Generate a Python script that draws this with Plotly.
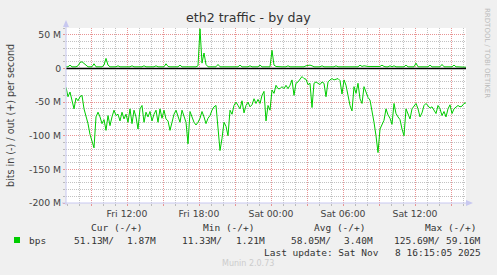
import pandas as pd
import plotly.graph_objects as go

# ---- data (Mbit/s), 10-minute samples from Fri 2025-11-07 06:55 to Sat 16:15 ----
start_time = "2025-11-07 06:55"
in_vals = [
    -28, -42, -35, -50, -60, -44, -48, -42, -40, -60,
    -70, -82, -98, -110, -118, -72, -65, -72, -82, -76,
    -92, -70, -85, -72, -62, -70, -68, -78, -65, -75,
    -68, -80, -60, -82, -62, -72, -90, -60, -55, -80,
    -65, -72, -64, -78, -68, -62, -80, -60, -74, -62,
    -75, -78, -92, -80, -68, -62, -72, -80, -62, -72,
    -80, -112, -64, -72, -80, -84, -80, -74, -64, -72,
    -82, -74, -70, -62, -57, -55, -85, -122, -104, -80,
    -86, -100, -62, -68, -55, -50, -55, -60, -48, -66,
    -55, -50, -57, -54, -45, -52, -46, -52, -40, -34,
    -78, -55, -62, -32, -37, -25, -30, -30, -27, -30,
    -25, -30, -25, -17, -40, -22, -20, -15, -12, -15,
    -16, -24, -22, -58, -22, -20, -22, -24, -20, -22,
    -42, -20, -17, -15, -17, -16, -15, -18, -38, -17,
    -25, -40, -55, -63, -27, -37, -22, -45, -52, -27,
    -35, -43, -47, -62, -80, -100, -125, -90, -84, -77,
    -60, -69, -74, -83, -52, -67, -72, -76, -90, -100,
    -60, -67, -75, -60, -55, -52, -60, -72, -66, -55,
    -52, -55, -59, -57, -62, -67, -55, -60, -70, -64,
    -72, -60, -54, -67, -60, -57, -55, -57, -56, -52,
    -51,
]
out_vals = [
    2.5, 2.5, 5, 2.5, 2.5, 2.5, 4, 9, 10, 7,
    4, 2.5, 2.5, 2.5, 7, 2.5, 2.5, 2.5, 2.5, 5,
    15, 5, 2.5, 2.5, 2.5, 2.5, 4, 2.5, 2.5, 2.5,
    2.5, 2.5, 2.5, 4, 2.5, 2.5, 2.5, 2.5, 2.5, 4,
    2.5, 2.5, 2.5, 2.5, 2.5, 4, 2.5, 2.5, 2.5, 2.5,
    7, 3, 2.5, 2.5, 2.5, 2.5, 2.5, 5, 2.5, 2.5,
    3, 2.5, 2.5, 2.5, 2.5, 2.5, 4, 59, 8, 23,
    6, 2.5, 2.5, 2.5, 2.5, 2.5, 6, 2.5, 2.5, 2.5,
    2.5, 3, 2.5, 2.5, 2.5, 2.5, 2.5, 5, 2.5, 2.5,
    2.5, 2.5, 4, 2.5, 2.5, 2.5, 2.5, 5, 2.5, 2.5,
    2.5, 2.5, 2.5, 27, 5, 3, 2.5, 2.5, 2.5, 2.5,
    2.5, 4, 2.5, 2.5, 2.5, 2.5, 2.5, 2.5, 2.5, 2.5,
    4, 5, 5, 4, 2.5, 2.5, 2.5, 2.5, 4, 2.5,
    2.5, 2.5, 2.5, 2.5, 2.5, 4, 2.5, 2.5, 2.5, 2.5,
    2.5, 2.5, 2.5, 2.5, 2.5, 2.5, 2.5, 5, 3, 4,
    3, 3, 3, 3, 3, 3, 3, 3, 5, 3,
    2.5, 2.5, 4, 2.5, 4, 2.5, 2.5, 2.5, 2.5, 2.5,
    5, 2.5, 2.5, 2.5, 2.5, 8, 2.5, 2.5, 2.5, 2.5,
    2.5, 2.5, 5, 2.5, 2.5, 2.5, 2.5, 2.5, 6, 2.5,
    2.5, 2.5, 2.5, 2.5, 5, 2.5, 2.5, 2.5, 2.5, 2.5,
    1.87,
]
y_tick_vals = [-200, -150, -100, -50, 0, 50]
y_tick_text = ["-200 M", "-150 M", "-100 M", "-50 M", "0", "50 M"]
x_tick_vals = ["2025-11-07 09:00", "2025-11-07 12:00", "2025-11-07 15:00", "2025-11-07 18:00",
               "2025-11-07 21:00", "2025-11-08 00:00", "2025-11-08 03:00", "2025-11-08 06:00",
               "2025-11-08 09:00", "2025-11-08 12:00", "2025-11-08 15:00"]
x_tick_text = ["", "Fri 12:00", "", "Fri 18:00", "", "Sat 00:00", "", "Sat 06:00", "", "Sat 12:00", ""]
legend_headers = ["Cur (-/+)", "Min (-/+)", "Avg (-/+)", "Max (-/+)"]
legend_neg = ["51.13M/", "11.33M/", "58.05M/", "125.69M/"]
legend_pos = ["1.87M", "1.21M", "3.40M", "59.16M"]

times = pd.date_range(start_time, periods=len(in_vals), freq="10min")

W, H = 497, 275
L, R, T, B = 66, 466, 28, 203  # plot area in pixels


def px(x):
    return (x - L) / (R - L)


def py(y):
    return (B - y) / (B - T)


GREEN = "#00CC00"
MGRID = "#E89494"
GRID = "#C2C2C2"
AXIS = "#C8C8F0"
SANS = "DejaVu Sans"
MONO = "DejaVu Sans Mono"

fig = go.Figure()
fig.add_trace(go.Scatter(x=times, y=in_vals, mode="lines",
                         line=dict(color=GREEN, width=1), hoverinfo="skip"))
fig.add_trace(go.Scatter(x=times, y=out_vals, mode="lines",
                         line=dict(color=GREEN, width=1), hoverinfo="skip"))

fig.update_layout(
    width=W, height=H,
    margin=dict(l=L, r=W - R, t=T, b=H - B, pad=0),
    paper_bgcolor="#F0F0F0", plot_bgcolor="#FFFFFF",
    showlegend=False,
    font=dict(family=SANS, color="#555555", size=9),
)
fig.update_xaxes(
    range=[times[0], times[-1]], automargin=False,
    tickvals=x_tick_vals, ticktext=x_tick_text,
    showgrid=True, gridcolor=MGRID, griddash="1px,1px", gridwidth=1,
    ticks="outside", ticklen=2, tickcolor=MGRID,
    tickfont=dict(family=SANS, size=9.3, color="#444444"),
    minor=dict(dtick=3600000, tick0="2025-11-07 00:00", showgrid=True,
               gridcolor=GRID, griddash="1px,1px", gridwidth=1,
               ticks="outside", ticklen=2, tickcolor="#BBBBBB"),
    showline=False, zeroline=False,
)
fig.update_yaxes(
    range=[-200, 60.2], automargin=False,
    tickvals=y_tick_vals, ticktext=y_tick_text,
    showgrid=True, gridcolor=MGRID, griddash="1px,1px", gridwidth=1,
    ticks="outside", ticklen=2, tickcolor=MGRID,
    tickfont=dict(family=SANS, size=9.3, color="#444444"),
    minor=dict(dtick=10, showgrid=True, gridcolor=GRID, griddash="1px,1px",
               gridwidth=1, ticks="outside", ticklen=2, tickcolor="#BBBBBB"),
    showline=False, zeroline=False,
)

shapes = []
# zero rule
shapes.append(dict(type="line", xref="paper", yref="y", x0=0, x1=1, y0=0, y1=0,
                   line=dict(color="#000000", width=1.5), layer="above"))
# axes with arrows
shapes.append(dict(type="line", xref="paper", yref="paper", x0=px(66), x1=px(66),
                   y0=py(205), y1=py(24), line=dict(color=AXIS, width=1)))
shapes.append(dict(type="path", xref="paper", yref="paper",
                   path=f"M {px(63)} {py(27)} L {px(69)} {py(27)} L {px(66)} {py(20)} Z",
                   fillcolor=AXIS, line=dict(color=AXIS, width=0)))
shapes.append(dict(type="line", xref="paper", yref="paper", x0=px(62), x1=px(468),
                   y0=py(203), y1=py(203), line=dict(color=AXIS, width=1)))
shapes.append(dict(type="path", xref="paper", yref="paper",
                   path=f"M {px(466)} {py(200)} L {px(466)} {py(206)} L {px(473)} {py(203)} Z",
                   fillcolor=AXIS, line=dict(color=AXIS, width=0)))
# legend swatch
shapes.append(dict(type="rect", xref="paper", yref="paper", x0=px(14), x1=px(20),
                   y0=py(243), y1=py(237), fillcolor=GREEN, line=dict(width=0)))
fig.update_layout(shapes=shapes)

ann = []


def text(t, x, y, xa="left", size=9.5, color="#333333", fam=MONO, angle=0):
    ann.append(dict(text=t, xref="paper", yref="paper", x=px(x), y=py(y),
                    xanchor=xa, yanchor="middle", showarrow=False, textangle=angle,
                    font=dict(family=fam, size=size, color=color)))


text("eth2 traffic - by day", 248.5, 18, xa="center", size=12.6, color="#333333", fam=SANS)
text("bits in (-) / out (+) per second", 10, 115, xa="center", size=9.6,
     color="#444444", fam=SANS, angle=-90)
text("RRDTOOL / TOBI OETIKER", 487, 53, xa="center", size=7, color="#BBBBBB",
     fam=SANS, angle=90)

header_x = [89, 201, 312, 423]
neg_x = [72, 180, 289, 392]
pos_x = [158, 267, 375, 483]
for hx, h in zip(header_x, legend_headers):
    text(h, hx, 227.5, xa="left")
text("bps", 27, 240, xa="left")
for nx, n in zip(neg_x, legend_neg):
    text(n, nx, 240, xa="left")
for pxx, p in zip(pos_x, legend_pos):
    text(p, pxx, 240, xa="right")
text("Last update: Sat Nov", 262, 252, xa="left")
text("8 16:15:05 2025", 483, 252, xa="right")
text("Munin 2.0.73", 247.5, 263.5, xa="center", size=8, color="#CCCCCC", fam=SANS)
fig.update_layout(annotations=ann)

fig.write_html("out.html")
